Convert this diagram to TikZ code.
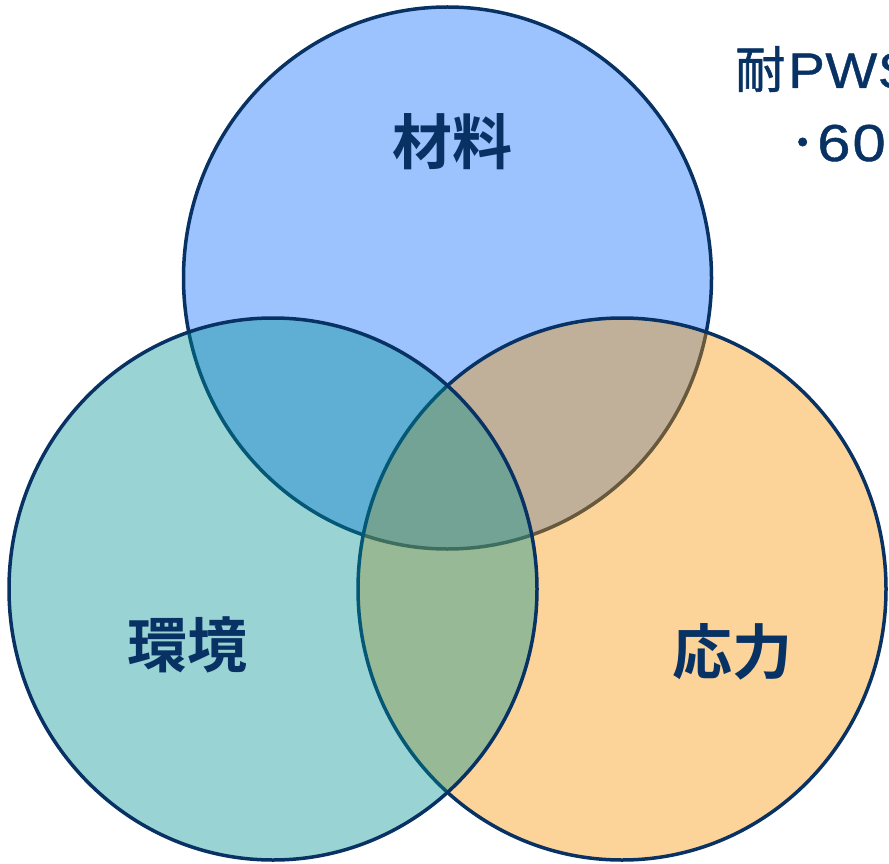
\documentclass[tikz,border=0pt]{standalone}
\usepackage{fontspec}
\usetikzlibrary{shapes.geometric}
\newfontfamily\jpfont[FakeBold=1.2]{Noto Sans CJK JP}
\newfontfamily\jpbold{Noto Sans CJK JP Bold}
\newfontfamily\latfont[LetterSpace=1,FakeStretch=1.1,FakeBold=0.8]{Liberation Sans}
\newfontfamily\digfont[LetterSpace=4,FakeStretch=1.15,FakeBold=0.8]{Liberation Sans}
\definecolor{navy}{RGB}{8,50,100}
\definecolor{topblue}{RGB}{157,195,255}
\definecolor{rightorange}{RGB}{248,148,0}
\definecolor{leftteal}{RGB}{0,145,145}
\tikzset{
  venn/.style={ellipse, draw=navy, line width=3.5pt, inner sep=0pt, outer sep=0pt,
    minimum width=528pt, minimum height=542pt},
  trans/.style={fill opacity=0.4, draw opacity=1},
  lbl/.style={text=navy, font=\jpbold\fontsize{60}{64}\selectfont, inner sep=0pt},
  note/.style={text=navy, inner sep=0pt, anchor=base west}
}
\begin{document}
\begin{tikzpicture}[x=1pt,y=-1pt]
\useasboundingbox (0,0) rectangle (889,864);
\clip (0,0) rectangle (889,864);
\node[venn, fill=topblue] (top) at (447.5,278) {};
\node[venn, trans, fill=rightorange] (right) at (622,589) {};
\node[venn, trans, fill=leftteal] (left) at (273,589) {};
\node[lbl] (t1) at (452,142) {材料};
\node[lbl] (t2) at (187,645) {環境};
\node[lbl] (t3) at (732,652) {応力};
\node[note, font=\jpfont\fontsize{50}{56}\selectfont] (n1) at (735,88) {耐};
\node[note, font=\latfont\fontsize{50}{56}\selectfont] (n1b) at (788,88) {PWS};
\node[note, font=\jpfont\fontsize{50}{56}\selectfont] (n2) at (790,161) {･};
\node[note, font=\digfont\fontsize{52}{56}\selectfont] (n2b) at (817,161) {60};
\end{tikzpicture}
\end{document}
